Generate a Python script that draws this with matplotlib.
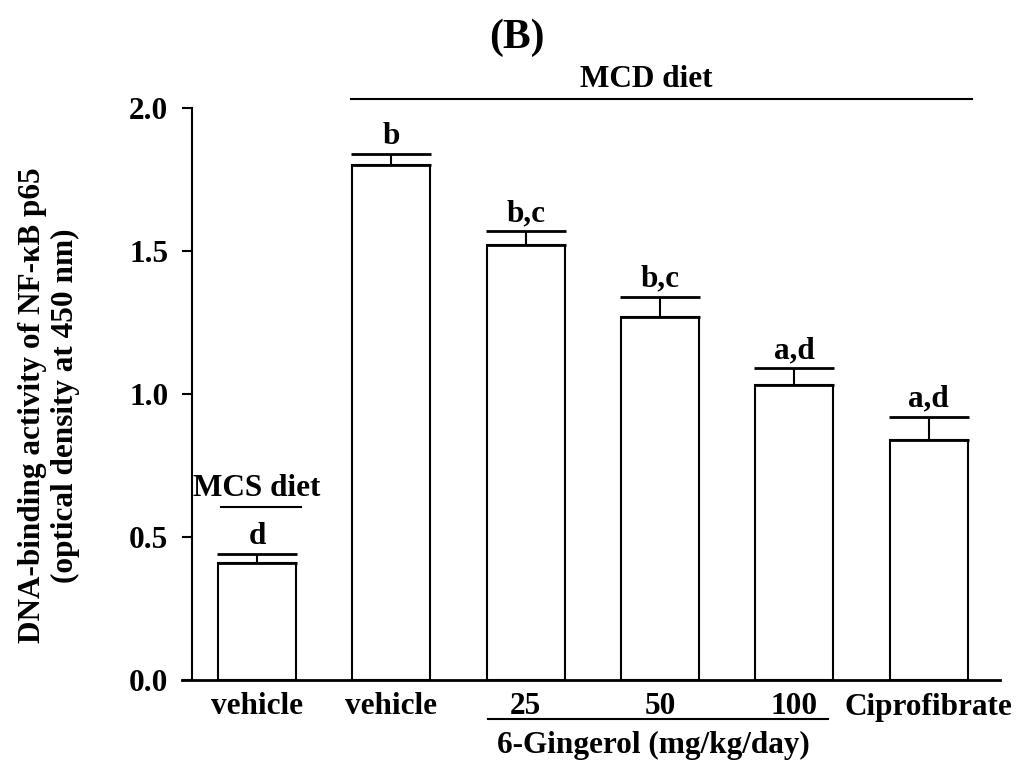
import matplotlib
matplotlib.use("Agg")
import matplotlib.pyplot as plt

plt.rcParams['font.family'] = ['Liberation Serif', 'DejaVu Serif']
plt.rcParams['font.weight'] = 'bold'

# data
groups = ["vehicle", "vehicle", "25", "50", "100", "Ciprofibrate"]
values = [0.41, 1.80, 1.52, 1.27, 1.03, 0.84]
errors = [0.03, 0.04, 0.05, 0.07, 0.06, 0.08]
letters = ["d", "b", "b,c", "b,c", "a,d", "a,d"]

FS = 22.5

fig = plt.figure(figsize=(10.24, 7.67), dpi=100)
ax = fig.add_axes([182/1024, 87/767, 818/1024, 572/767])

x = list(range(len(groups)))
ax.bar(x, values, width=0.58, color='white', edgecolor='black', linewidth=1.5)
ax.errorbar(x, values, yerr=[[0]*len(errors), errors], fmt='none', ecolor='black',
            elinewidth=1.5, capsize=29, capthick=2)
for xi, v, e, t in zip(x, values, errors, letters):
    ax.text(xi, v + e + 0.035, t, ha='center', va='baseline', fontsize=FS, fontweight='bold')

ax.set_xlim(-0.558, 5.53)
ax.set_ylim(0, 2.0)
ax.spines['left'].set_position(('data', -0.484))
ax.spines['right'].set_visible(False)
ax.spines['top'].set_visible(False)
ax.spines['left'].set_linewidth(1.5)
ax.spines['bottom'].set_linewidth(2)
ax.set_yticks([0, 0.5, 1.0, 1.5, 2.0])
ax.set_yticklabels(["0.0", "0.5", "1.0", "1.5", "2.0"])
ax.tick_params(axis='y', direction='out', length=7, width=1.5, labelsize=FS, pad=10)
ax.set_xticks(x)
ax.set_xticklabels(groups)
ax.tick_params(axis='x', length=0, labelsize=FS, pad=9)
for lab in ax.get_xticklabels() + ax.get_yticklabels():
    lab.set_fontweight('bold')

ax.set_ylabel("DNA-binding activity of NF-\u03baB p65\n(optical density at 450 nm)",
              fontsize=FS, fontweight='bold', linespacing=1.15)
ax.yaxis.set_label_coords(-0.125, 0.48)

# group annotations
ax.plot([0.7, 5.32], [2.031, 2.031], color='black', lw=1.5, clip_on=False)
ax.text(2.9, 2.073, "MCD diet", ha='center', va='baseline', fontsize=FS, fontweight='bold')
ax.plot([-0.27, 0.33], [0.605, 0.605], color='black', lw=1.5, clip_on=False)
ax.text(0, 0.643, "MCS diet", ha='center', va='baseline', fontsize=FS, fontweight='bold')
ax.plot([1.72, 4.25], [-0.136, -0.136], color='black', lw=1.5, clip_on=False)
ax.text(2.95, -0.255, "6-Gingerol (mg/kg/day)", ha='center', va='baseline', fontsize=FS, fontweight='bold')

fig.text(517/1024, 1 - 38/767, "(B)", ha='center', va='center', fontsize=30, fontweight='bold')

fig.savefig("out.png", dpi=100)
